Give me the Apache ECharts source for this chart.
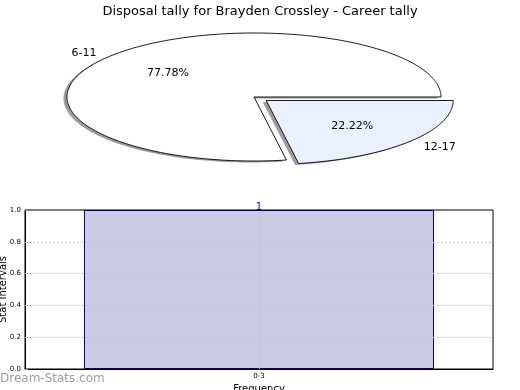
<!DOCTYPE html>
<html><head><meta charset="utf-8">
<script src="https://cdn.jsdelivr.net/npm/echarts@6/dist/echarts.min.js"></script>
<style>html,body{margin:0;padding:0;background:#fff}#c{width:520px;height:390px}</style>
</head><body><div id="c"></div>
<script>
// ---- data ----
const titleText = 'Disposal tally for Brayden Crossley - Career tally';
const pieLabels = ['6-11', '12-17'];
const pieValues = [7, 2];
const barCategories = ['0-3'];
const barValues = [1];
const yTicks = [0, 0.2, 0.4, 0.6, 0.8, 1.0];

// ---- style / layout ----
const FONT = 'DejaVu Sans';
const PIE = {cx: 254, cy: 97, rx: 187, ry: 64, explode: [0, 0.085],
  colors: ['#ffffff', '#eaf0fd'], shadowDx: -3.5, shadowDy: 1.5};
const total = pieValues.reduce((a, b) => a + b, 0);

function wedgeGeom(i, value) {
  let start = 0;
  for (let k = 0; k < i; k++) start += pieValues[k];
  const a1 = start / total * 360, a2 = (start + value) / total * 360;
  const mid = (a1 + a2) / 2 * Math.PI / 180;
  const ex = PIE.explode[i] || 0;
  const cx = PIE.cx + ex * PIE.rx * Math.cos(mid);
  const cy = PIE.cy - ex * PIE.ry * Math.sin(mid);
  const pts = [[cx, cy]];
  const n = Math.max(8, Math.ceil(a2 - a1));
  for (let j = 0; j <= n; j++) {
    const a = (a1 + (a2 - a1) * j / n) * Math.PI / 180;
    pts.push([cx + PIE.rx * Math.cos(a), cy - PIE.ry * Math.sin(a)]);
  }
  return {cx, cy, mid, pts, frac: value / total};
}

const pieData = pieValues.map((v, i) => ({name: pieLabels[i], value: [v]}));

const chart = echarts.init(document.getElementById('c'), null, {renderer: 'canvas'});
chart.setOption({
  animation: false,
  backgroundColor: '#ffffff',
  textStyle: {fontFamily: FONT},
  title: {text: titleText, left: 'center', top: 0,
    textStyle: {fontFamily: FONT, fontSize: 13, fontWeight: 'normal', color: '#000'}},
  graphic: [{type: 'text', left: 0, top: 373,
    style: {text: 'Dream-Stats.com', fill: '#9c9c9c', font: '12px "DejaVu Sans"'}}],
  grid: {left: 25, right: 27, top: 210, bottom: 21, show: true, containLabel: false,
    outerBoundsMode: 'none',
    borderColor: '#000', borderWidth: 1, backgroundColor: 'transparent'},
  xAxis: {type: 'category', data: barCategories, boundaryGap: true,
    axisLine: {show: true, lineStyle: {color: '#000', width: 1}},
    axisTick: {show: false},
    axisLabel: {fontSize: 7, color: '#000', margin: 4, fontFamily: FONT},
    splitLine: {show: false},
    name: 'Frequency', nameLocation: 'middle', nameGap: 15, nameMoveOverlap: false,
    nameTextStyle: {fontSize: 10, color: '#000', fontFamily: FONT}},
  yAxis: {type: 'value', min: yTicks[0], max: yTicks[yTicks.length - 1], interval: 0.2,
    axisLine: {show: true, lineStyle: {color: '#000', width: 1}},
    axisTick: {show: true, inside: true, length: 3, lineStyle: {color: '#999'}},
    axisLabel: {fontSize: 7, color: '#000', margin: 4, fontFamily: FONT,
      formatter: v => v.toFixed(1)},
    splitLine: {show: false},
    name: 'Stat Intervals', nameLocation: 'middle', nameRotate: 90, nameGap: 17, nameMoveOverlap: false,
    nameTextStyle: {fontSize: 10, color: '#000', fontFamily: FONT}},
  series: [
    {
      type: 'custom', coordinateSystem: 'none', z: 1, silent: true,
      data: pieData,
      renderItem: function (params, api) {
        const g = wedgeGeom(params.dataIndex, api.value(0));
        return {type: 'polygon', shape: {points: g.pts.map(p => [p[0] + PIE.shadowDx, p[1] + PIE.shadowDy])},
          style: {fill: '#4d4d4d', opacity: 0.55}};
      }
    },
    {
      type: 'custom', coordinateSystem: 'none', z: 2, silent: true,
      data: pieData,
      renderItem: function (params, api) {
        const i = params.dataIndex;
        const g = wedgeGeom(i, api.value(0));
        const lx = g.cx + 1.1 * PIE.rx * Math.cos(g.mid);
        const ly = g.cy - 1.1 * PIE.ry * Math.sin(g.mid);
        const px = g.cx + 0.6 * PIE.rx * Math.cos(g.mid);
        const py = g.cy - 0.6 * PIE.ry * Math.sin(g.mid);
        return {type: 'group', children: [
          {type: 'polygon', shape: {points: g.pts},
            style: {fill: PIE.colors[i], stroke: '#000', lineWidth: 0.9, lineJoin: 'miter'}},
          {type: 'text', x: lx, y: ly + 1,
            style: {text: pieLabels[i], fill: '#000', font: '11px "DejaVu Sans"',
              align: Math.cos(g.mid) < 0 ? 'right' : 'left', verticalAlign: 'middle'}},
          {type: 'text', x: px, y: py + 1,
            style: {text: (g.frac * 100).toFixed(2) + '%', fill: '#000', font: '11px "DejaVu Sans"',
              align: 'center', verticalAlign: 'middle'}}
        ]};
      }
    },
    {
      type: 'bar', data: barValues, barWidth: '74.8%', z: 3,
      itemStyle: {color: '#cbcbe3', borderColor: '#00008b', borderWidth: 1},
      label: {show: true, position: 'top', distance: -2, color: '#00008b', fontSize: 10, fontFamily: FONT},
      markLine: {
        silent: true, symbol: 'none', label: {show: false},
        lineStyle: {type: [2, 2], color: '#c4c4c4', width: 1},
        data: yTicks.slice(1, -1).map(v => ({yAxis: v})).concat(barCategories.map(c => ({xAxis: c})))
      }
    }
  ]
});
</script></body></html>
